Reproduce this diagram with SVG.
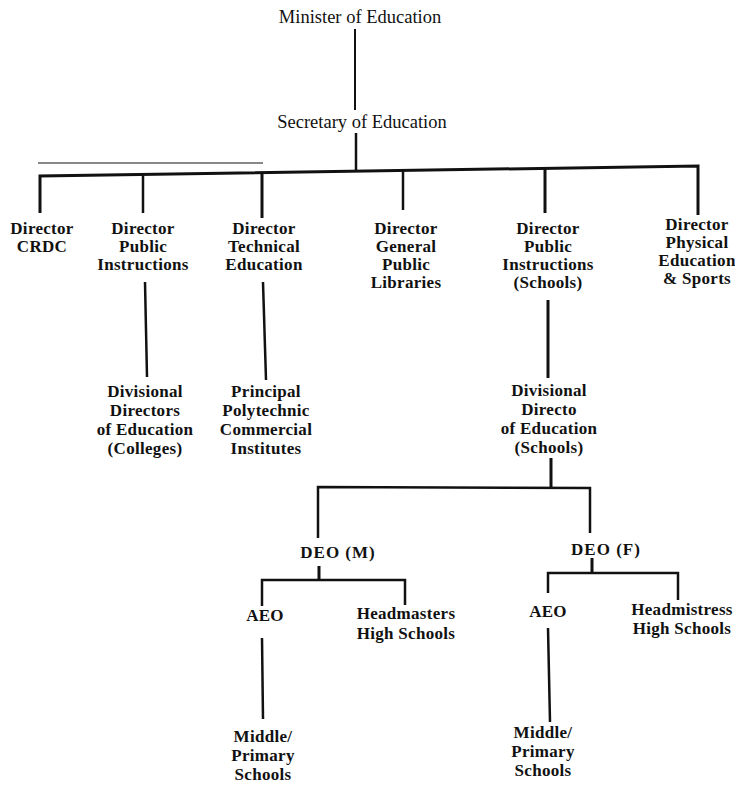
<svg xmlns="http://www.w3.org/2000/svg" width="735" height="789" viewBox="0 0 735 789">
<style>
  text { font-family: "Liberation Serif", "Times New Roman", serif; fill: #111; text-anchor: middle; }
  .t { font-size: 18.5px; }
  .n { font-size: 17px; font-weight: bold; letter-spacing: 0.3px; }
  .w { letter-spacing: 1px; }
  .c path, .c line { stroke: #111; fill: none; stroke-linecap: butt; stroke-linejoin: miter; }
  .thin { stroke-width: 2; }
  .med { stroke-width: 2.5; }
  .thick { stroke-width: 3; }
  .ghost { stroke: #bbb; stroke-width: 1.2; }
</style>
<rect width="735" height="789" fill="#fff"/>

<g id="connectors" class="c">
  <line class="ghost" x1="38" y1="163" x2="263" y2="163"/>
  <line class="thin" x1="355" y1="29" x2="355" y2="110"/>
  <line class="med" x1="356" y1="133" x2="356" y2="171"/>
  <path class="thick" d="M40,213 V176 L698,166 V215"/>
  <line class="med" x1="143" y1="174.4" x2="143" y2="213"/>
  <line class="thick" x1="262" y1="172.6" x2="262" y2="218"/>
  <line class="med" x1="403" y1="170.5" x2="403" y2="210"/>
  <line class="thick" x1="545" y1="168.3" x2="545" y2="213"/>
  <line class="med" x1="145" y1="282" x2="147" y2="377"/>
  <line class="med" x1="263" y1="282" x2="266" y2="380"/>
  <line class="thick" x1="548" y1="300" x2="548" y2="378"/>
  <line class="thick" x1="551" y1="458" x2="551" y2="487"/>
  <path class="med" d="M318,538 V487 L590,488 V533"/>
  <line class="thick" x1="319" y1="566" x2="319" y2="580"/>
  <path class="med" d="M262,606 V580 H405 V605"/>
  <line class="med" x1="262" y1="638" x2="263" y2="719"/>
  <line class="thick" x1="592" y1="558" x2="592" y2="573"/>
  <path class="med" d="M548,593 V573 H678 V600"/>
  <line class="med" x1="548" y1="628" x2="550" y2="722"/>
</g>

<g id="minister"><text class="t" x="360" y="23">Minister of Education</text></g>
<g id="secretary"><text class="t" x="362" y="128">Secretary of Education</text></g>

<g id="dir-crdc">
  <text class="n" x="42" y="234">Director</text>
  <text class="n" x="42" y="252">CRDC</text>
</g>
<g id="dir-public-instructions">
  <text class="n" x="143" y="234">Director</text>
  <text class="n" x="143" y="252">Public</text>
  <text class="n" x="143" y="270">Instructions</text>
</g>
<g id="dir-technical">
  <text class="n" x="264" y="234">Director</text>
  <text class="n" x="264" y="252">Technical</text>
  <text class="n" x="264" y="270">Education</text>
</g>
<g id="dir-libraries">
  <text class="n" x="406" y="234">Director</text>
  <text class="n" x="406" y="252">General</text>
  <text class="n" x="406" y="270">Public</text>
  <text class="n" x="406" y="288">Libraries</text>
</g>
<g id="dir-schools">
  <text class="n" x="548" y="234">Director</text>
  <text class="n" x="548" y="252">Public</text>
  <text class="n" x="548" y="270">Instructions</text>
  <text class="n" x="548" y="288">(Schools)</text>
</g>
<g id="dir-physical">
  <text class="n" x="697" y="230">Director</text>
  <text class="n" x="697" y="248">Physical</text>
  <text class="n" x="697" y="266">Education</text>
  <text class="n" x="697" y="284">&amp; Sports</text>
</g>

<g id="div-colleges">
  <text class="n" x="145" y="397">Divisional</text>
  <text class="n" x="145" y="416">Directors</text>
  <text class="n" x="145" y="435">of Education</text>
  <text class="n" x="145" y="454">(Colleges)</text>
</g>
<g id="principal">
  <text class="n" x="266" y="397">Principal</text>
  <text class="n" x="266" y="416">Polytechnic</text>
  <text class="n" x="266" y="435">Commercial</text>
  <text class="n" x="266" y="454">Institutes</text>
</g>
<g id="div-schools">
  <text class="n" x="549" y="396">Divisional</text>
  <text class="n" x="549" y="415">Directo</text>
  <text class="n" x="549" y="434">of Education</text>
  <text class="n" x="549" y="453">(Schools)</text>
</g>

<g id="deo-m"><text class="n w" x="338" y="558">DEO (M)</text></g>
<g id="deo-f"><text class="n w" x="606" y="555">DEO (F)</text></g>

<g id="aeo-m"><text class="n" x="265" y="621">AEO</text></g>
<g id="headmasters">
  <text class="n" x="406" y="619">Headmasters</text>
  <text class="n" x="406" y="639">High Schools</text>
</g>
<g id="aeo-f"><text class="n" x="548" y="617">AEO</text></g>
<g id="headmistress">
  <text class="n" x="682" y="615">Headmistress</text>
  <text class="n" x="682" y="634">High Schools</text>
</g>

<g id="schools-m">
  <text class="n" x="263" y="742">Middle/</text>
  <text class="n" x="263" y="761">Primary</text>
  <text class="n" x="263" y="780">Schools</text>
</g>
<g id="schools-f">
  <text class="n" x="543" y="738">Middle/</text>
  <text class="n" x="543" y="757">Primary</text>
  <text class="n" x="543" y="776">Schools</text>
</g>
</svg>
